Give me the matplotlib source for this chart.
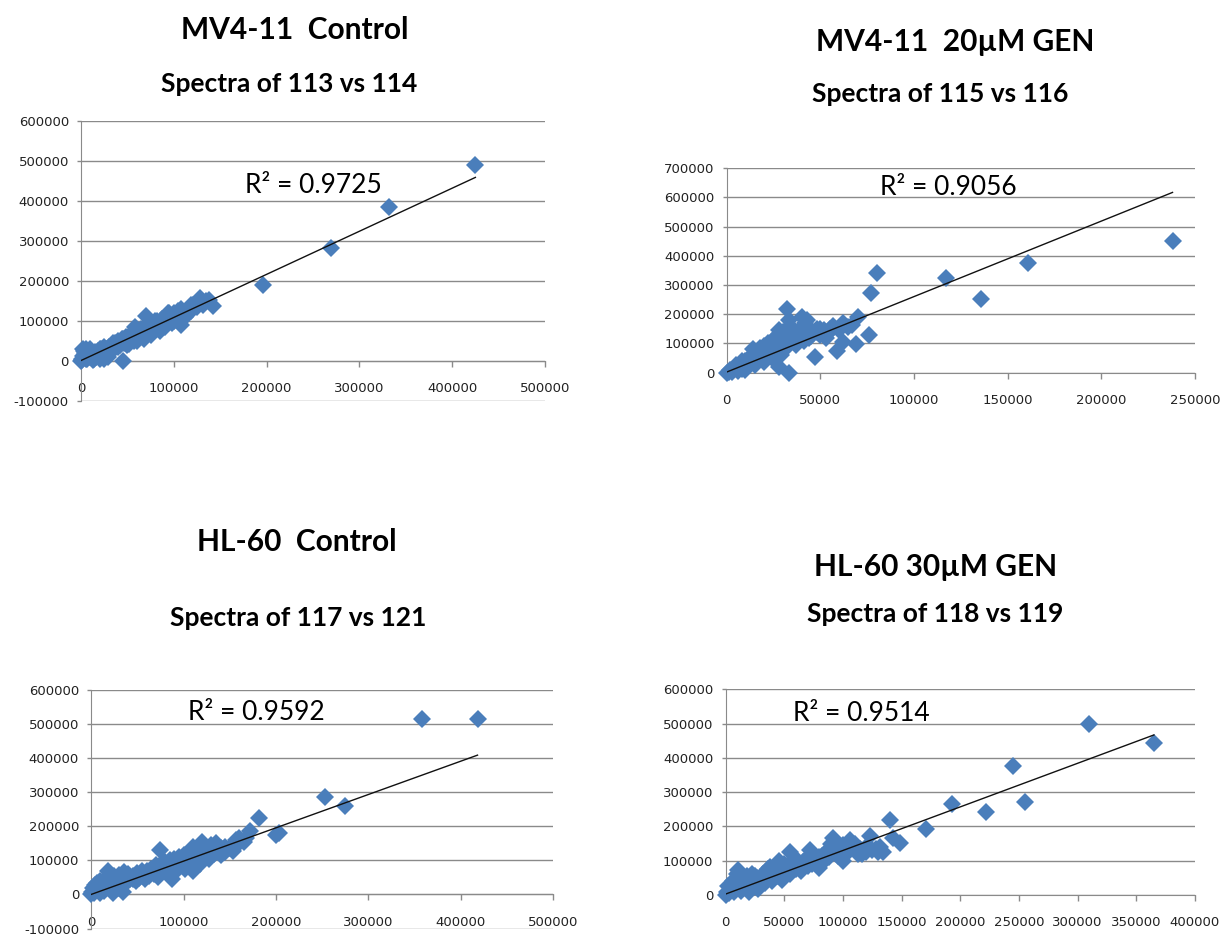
import matplotlib
matplotlib.use("Agg")
import matplotlib.pyplot as plt
import numpy as np

plt.rcParams['font.family'] = ['DejaVu Sans']
plt.rcParams['axes.unicode_minus'] = False

# valeurs (en milliers)
x_113 = [0, 1, 1, 2, 2, 3, 3, 4, 5, 5,
         6, 7, 8, 9, 10, 11, 12, 13, 14, 15,
         16, 18, 19, 20, 21, 22, 23, 24, 25, 26,
         27, 28, 29, 30, 32, 34, 35, 37, 38, 40,
         42, 44, 45, 46, 48, 50, 52, 54, 55, 57,
         58, 60, 62, 64, 65, 67, 68, 70, 70, 72,
         74, 75, 78, 80, 82, 84, 85, 87, 88, 90,
         92, 94, 95, 97, 98, 100, 102, 104, 105, 108,
         108, 110, 112, 115, 118, 121, 125, 128, 130, 135,
         138, 142, 196, 269, 332, 425,
         5, 10, 15, 20, 25, 30, 35, 40, 45, 50,
         55, 60, 65, 75, 80, 85, 90, 95, 100, 105,
         112, 118, 125, 132]
y_114 = [0, 2, 5, 12, 30, 8, 25, 18, 3, 14,
         8, 4, 15, 10, 20, 16, 10, 2, 5, 22,
         8, 25, 14, 12, 4, 28, 9, 18, 5, 14,
         30, 22, 8, 35, 25, 40, 30, 45, 35, 50,
         38, 55, 0, 45, 60, 50, 42, 62, 55, 48,
         85, 65, 58, 75, 70, 62, 55, 112, 80, 90,
         72, 85, 95, 82, 100, 90, 75, 105, 95, 110,
         100, 118, 105, 112, 95, 120, 108, 125, 115, 88,
         130, 118, 122, 130, 125, 140, 135, 157, 145, 148,
         152, 137, 188, 281, 383, 490,
         30, 28, 10, 30, 35, 18, 45, 35, 55, 40,
         70, 50, 80, 65, 100, 95, 85, 120, 100, 108,
         110, 140, 145, 140]

x_115 = [0, 1, 2, 3, 4, 5, 6, 7, 8, 9,
         10, 10, 11, 12, 13, 14, 14, 15, 16, 17,
         18, 19, 20, 20, 21, 22, 23, 24, 25, 26,
         27, 28, 28, 29, 30, 31, 32, 32, 33, 34,
         35, 36, 37, 38, 40, 40, 41, 43, 44, 45,
         46, 47, 48, 50, 52, 53, 55, 57, 59, 60,
         62, 62, 65, 67, 69, 70, 76, 77, 80, 33,
         117, 136, 161, 238, 28,
         5, 8, 12, 16, 18, 22, 24, 26, 30, 34,
         36, 38, 42, 44, 48, 50, 54, 56]
y_116 = [0, 3, 8, 2, 12, 18, 6, 25, 14, 30,
         10, 40, 22, 50, 35, 62, 82, 28, 70, 45,
         55, 75, 35, 92, 60, 100, 80, 50, 110, 70,
         125, 90, 145, 60, 105, 80, 217, 130, 180, 100,
         150, 120, 95, 140, 192, 130, 110, 180, 150, 125,
         135, 53, 140, 130, 145, 120, 150, 160, 75, 145,
         169, 106, 155, 163, 98, 192, 129, 272, 342, 0,
         325, 252, 377, 451, 20,
         25, 40, 30, 55, 85, 70, 110, 95, 140, 160,
         140, 115, 170, 120, 150, 150, 135, 150]

x_117 = [0, 1, 2, 3, 4, 5, 6, 8, 9, 10,
         12, 14, 15, 17, 18, 20, 20, 22, 24, 25,
         27, 30, 30, 32, 34, 35, 38, 40, 42, 45,
         48, 50, 52, 55, 58, 60, 62, 65, 68, 70,
         72, 74, 75, 78, 80, 82, 85, 87, 88, 90,
         92, 95, 97, 100, 102, 105, 107, 110, 110, 112,
         115, 118, 120, 122, 125, 128, 130, 133, 135, 138,
         140, 145, 150, 153, 157, 160, 165, 168, 172, 182,
         200, 203, 253, 275, 358, 418,
         5, 10, 15, 25, 35, 45, 55, 65, 75, 85,
         95, 100, 105, 112, 118, 125, 130, 140, 145, 160]
y_121 = [0, 8, 20, 3, 28, 12, 35, 18, 5, 40,
         25, 10, 45, 30, 68, 15, 50, 35, 5, 55,
         40, 20, 58, 45, 8, 50, 35, 60, 45, 55,
         38, 62, 48, 58, 45, 70, 55, 75, 60, 85,
         50, 131, 90, 70, 95, 80, 100, 44, 85, 105,
         70, 110, 90, 115, 75, 120, 95, 68, 140, 105,
         125, 90, 155, 115, 135, 105, 145, 120, 150, 130,
         115, 140, 135, 126, 160, 150, 155, 165, 186, 223,
         174, 180, 286, 259, 516, 516,
         25, 20, 30, 40, 65, 45, 70, 65, 80, 80,
         95, 95, 100, 125, 110, 120, 125, 135, 125, 165]

x_118 = [0, 1, 2, 3, 4, 5, 6, 7, 8, 10,
         11, 12, 13, 15, 17, 18, 20, 21, 23, 25,
         27, 28, 30, 32, 34, 36, 38, 38, 40, 42,
         44, 46, 48, 50, 52, 55, 55, 57, 60, 62,
         64, 66, 68, 70, 72, 74, 76, 78, 80, 82,
         84, 86, 88, 90, 92, 94, 96, 98, 100, 102,
         104, 106, 108, 110, 113, 116, 120, 123, 125, 128,
         132, 134, 140, 143, 149, 171, 193, 222, 245, 255,
         310, 365,
         5, 10, 15, 20, 25, 30, 35, 40, 45, 50,
         60, 65, 70, 75, 80, 85, 90, 95, 100, 105,
         110, 115, 120, 130]
y_119 = [0, 10, 25, 5, 30, 15, 40, 8, 20, 60,
         73, 30, 12, 45, 25, 55, 10, 40, 62, 30,
         50, 18, 45, 60, 35, 75, 50, 82, 40, 65,
         55, 100, 45, 70, 85, 126, 60, 90, 75, 100,
         70, 95, 85, 110, 131, 90, 105, 95, 80, 115,
         100, 125, 110, 150, 165, 130, 115, 140, 100, 135,
         125, 160, 140, 130, 120, 121, 125, 172, 130, 135,
         140, 126, 219, 165, 153, 192, 264, 243, 376, 272,
         498, 444,
         25, 35, 20, 50, 55, 30, 55, 70, 60, 90,
         95, 80, 85, 100, 110, 110, 130, 120, 145, 130,
         150, 135, 140, 125]

# courbes de tendance
pentes = [1.078, 2.585, 0.978, 1.272]
origines = [0, 2200, 0, 2600]
r2 = ["0.9725", "0.9056", "0.9592", "0.9514"]

titres = ["MV4-11  Control", "MV4-11  20\u00b5M GEN", "HL-60  Control", "HL-60 30\u00b5M GEN"]
sous_titres = ["Spectra of 113 vs 114", "Spectra of 115 vs 116",
               "Spectra of 117 vs 121", "Spectra of 118 vs 119"]

bleu = '#4a7ebb'
gris = '#8a8a8a'
W, H = 1224, 936

fig = plt.figure(figsize=(12.24, 9.36), dpi=100)


def px(x, y):
    return x / W, 1 - y / H


def plot(box, xs, ys, pente, origine, xmax, xstep, ymin, ymax):
    gauche, haut, droite, bas = box
    ax = fig.add_axes([gauche / W, 1 - bas / H, (droite - gauche) / W, (bas - haut) / H])
    x = np.array(xs) * 1000.0
    y = np.array(ys) * 1000.0
    ax.plot(x, y, 'D', ms=8.8, color=bleu, mec=bleu, mew=0, clip_on=False, zorder=3)
    xt = np.array([x.min(), x.max()])
    ax.plot(xt, pente * xt + origine, color='#111111', lw=1, zorder=4)

    ax.set_xlim(0, xmax)
    ax.set_ylim(ymin, ymax)
    ax.set_xticks(np.arange(0, xmax + 1, xstep))
    ax.set_yticks(np.arange(ymin, ymax + 1, 100000))
    ax.xaxis.set_major_formatter(lambda v, p: "%d" % v)
    ax.yaxis.set_major_formatter(lambda v, p: "%d" % v)
    ax.yaxis.grid(True, color=gris, lw=1)
    ax.set_axisbelow(True)
    for s in ['top', 'right']:
        ax.spines[s].set_visible(False)
    ax.spines['left'].set_color(gris)
    ax.spines['bottom'].set_color(gris)
    ax.spines['bottom'].set_position(('data', 0))
    ax.tick_params(axis='x', direction='out', length=4.3, width=1, color=gris,
                   pad=11, labelsize=9.5, labelcolor='#222222')
    ax.tick_params(axis='y', direction='out', length=2.7, width=1, color=gris,
                   pad=6, labelsize=9.5, labelcolor='#222222')
    return ax


# (gauche, haut, droite, bas) en pixels
plot((81, 120.7, 545, 400.5), x_113, y_114, pentes[0], origines[0], 500000, 100000, -100000, 600000)
plot((726.7, 168.3, 1195, 372.7), x_115, y_116, pentes[1], origines[1], 250000, 50000, 0, 700000)
plot((91.2, 690, 553.3, 928.5), x_117, y_121, pentes[2], origines[2], 500000, 100000, -100000, 600000)
plot((725.5, 689.3, 1195, 895), x_118, y_119, pentes[3], origines[3], 400000, 50000, 0, 600000)

# titres
pos_titres = [(295, 39), (955, 51), (297, 551), (936, 576)]
pos_sous = [(289, 92), (940, 102), (298, 626), (935, 622)]
pos_r2 = [(313, 192.7), (948, 195), (256.7, 720), (861.7, 720.7)]
for i in range(4):
    fig.text(*px(*pos_titres[i]), titres[i], ha='center', va='baseline',
             family=['Lato', 'DejaVu Sans'], weight='bold', fontsize=21.5)
    fig.text(*px(*pos_sous[i]), sous_titres[i], ha='center', va='baseline',
             family=['Lato', 'DejaVu Sans'], weight='bold', fontsize=19)
    fig.text(*px(*pos_r2[i]), "R\u00b2 = " + r2[i], ha='center', va='baseline',
             family=['Lato', 'DejaVu Sans'], fontsize=19)

fig.savefig("out.png", dpi=100)
